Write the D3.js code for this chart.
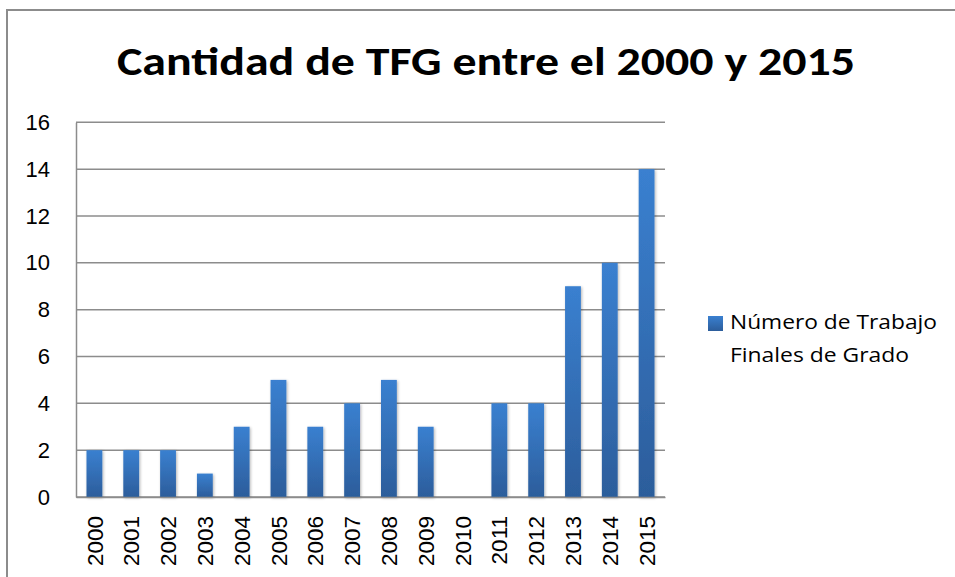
<!DOCTYPE html>
<html><head><meta charset="utf-8">
<script src="https://cdn.jsdelivr.net/npm/d3@7/dist/d3.min.js"></script>
<style>body{margin:0;background:#fff}svg{display:block}</style>
</head><body>
<svg id="c" width="955" height="577"></svg>
<script>
const years = ["2000","2001","2002","2003","2004","2005","2006","2007","2008","2009","2010","2011","2012","2013","2014","2015"];
const values = [2,2,2,1,3,5,3,4,5,3,0,4,4,9,10,14];
const yTicks = [0,2,4,6,8,10,12,14,16];
const seriesName = ["Número de Trabajo","Finales de Grado"];
const title = "Cantidad de TFG entre el 2000 y 2015";

const svg = d3.select("#c");
const defs = svg.append("defs");
function grad(id){
  const g = defs.append("linearGradient").attr("id",id).attr("x1",0).attr("y1",0).attr("x2",0).attr("y2",1);
  g.append("stop").attr("offset","0%").attr("stop-color","#3a80d0");
  g.append("stop").attr("offset","100%").attr("stop-color","#2c5d9b");
}
grad("bg"); grad("lg");
const f = defs.append("filter").attr("id","sh").attr("x","-30%").attr("y","-10%").attr("width","160%").attr("height","120%");
f.append("feGaussianBlur").attr("in","SourceAlpha").attr("stdDeviation",1.5).attr("result","b");
f.append("feOffset").attr("in","b").attr("dx",1).attr("dy",1).attr("result","o");
f.append("feComponentTransfer").attr("in","o").attr("result","o2").append("feFuncA").attr("type","linear").attr("slope",0.3);
const m = f.append("feMerge"); m.append("feMergeNode").attr("in","o2"); m.append("feMergeNode").attr("in","SourceGraphic");

// outer border
svg.append("rect").attr("x",7).attr("y",10).attr("width",960).attr("height",600)
  .attr("fill","none").attr("stroke","#8c8c8c").attr("stroke-width",2);

const L=76, R=665, T=122.3, B=497;
const x = d3.scaleBand().domain(years).range([L,R]).paddingInner(0.57).paddingOuter(0.285);
const y = d3.scaleLinear().domain([0,16]).range([B,T]);

// gridlines
svg.append("g").selectAll("line").data(yTicks).join("line")
  .attr("x1",L).attr("x2",R).attr("y1",d=>y(d)).attr("y2",d=>y(d))
  .attr("stroke","#8c8c8c").attr("stroke-width",1.5);

// bars
svg.append("g").selectAll("rect").data(years.map((yr,i)=>({yr,v:values[i]})).filter(d=>d.v>0)).join("rect")
  .attr("x",d=>x(d.yr)).attr("width",x.bandwidth())
  .attr("y",d=>y(d.v)).attr("height",d=>B-y(d.v))
  .attr("fill","url(#bg)").attr("filter","url(#sh)");

// y axis
const ya = svg.append("g").attr("transform",`translate(${L},0)`).call(d3.axisLeft(y).tickValues(yTicks).tickSize(0).tickPadding(26));
ya.attr("font-family",null).attr("font-size",null);
ya.select(".domain").attr("stroke","#8c8c8c").attr("stroke-width",1.5);
ya.selectAll("text").style("font-size","22px").style("fill","#000").style("font-family","'Liberation Sans',Arial,sans-serif");

// x axis
const xa = svg.append("g").attr("transform",`translate(0,${B})`).call(d3.axisBottom(x).tickSize(0).tickPadding(0));
xa.attr("font-family",null).attr("font-size",null);
xa.select(".domain").attr("stroke","#8c8c8c").attr("stroke-width",1.5);
xa.selectAll("text").style("font-size","22.5px").style("fill","#000").style("font-family","'Liberation Sans',Arial,sans-serif")
  .attr("transform","rotate(-90)").attr("text-anchor","end").attr("x",-19).attr("y",0).attr("dy","0.36em");

// title
svg.append("text").attr("x",117).attr("y",75).attr("textLength",738).attr("lengthAdjust","spacingAndGlyphs")
  .style("font-size","40px").style("font-weight","bold").style("font-family","Carlito,Lato,sans-serif").attr("fill","#000").text(title);

// legend
svg.append("rect").attr("x",708).attr("y",316).attr("width",15).attr("height",15).attr("fill","url(#lg)");
const lens=[207,179];
svg.append("g").selectAll("text").data(seriesName).join("text")
  .attr("x",730).attr("y",(d,i)=>329+i*33).attr("fill","#000")
  .style("font-size","20px").style("font-family","'Open Sans',sans-serif")
  .attr("textLength",(d,i)=>lens[i]).attr("lengthAdjust","spacingAndGlyphs").text(d=>d);
</script>
</body></html>
